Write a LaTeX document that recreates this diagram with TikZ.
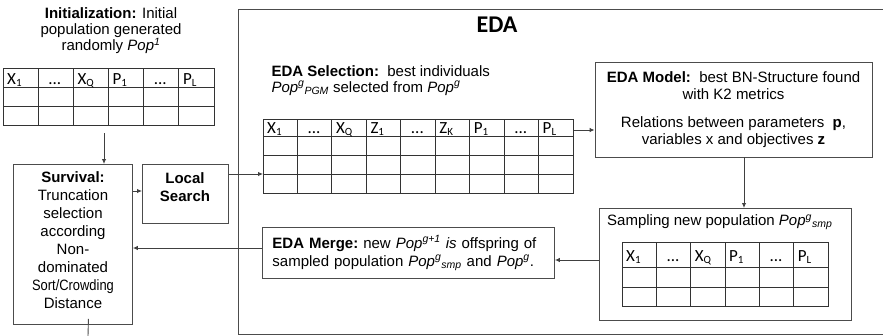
\documentclass[tikz,border=0pt]{standalone}
\usepackage{fontspec}
\setmainfont{Liberation Sans}
\newfontfamily\calfont{Carlito}
\usetikzlibrary{arrows.meta}
\newcommand\sbs[1]{\raisebox{-0.3ex}{\fontsize{11}{11}\selectfont #1}}
\newcommand\celldots{\hspace{6pt}...}

\begin{document}
\begin{tikzpicture}[x=1pt,y=-1pt,
		font=\fontsize{15}{17}\selectfont,
		box/.style={draw=black!70, line width=0.9pt, inner sep=0pt},
		grid/.style={draw=black!80, line width=0.9pt},
		head/.style={font=\calfont\fontsize{17}{17}\selectfont, inner sep=0pt, anchor=base west},
		arw/.style={draw=black!75, line width=0.9pt, -{Latex[length=5pt,width=4.5pt]}}]
			\useasboundingbox (0,0) rectangle (883,335);
			\def \cwa{ 35.17 };
			\def \cwb{ 34.44 };
			\def \cwc{ 34.33 };
			% initial population
			\node[align=center, font=\fontsize{15}{16}\selectfont] (inittxt) at (111,31)
				{\textbf{Initialization:} Initial\\population generated\\randomly \textit{Pop\textsuperscript{1}}};
			\node[box, draw=black!80, anchor=north west, minimum width=211, minimum height=57] (inittab) at (3,68) {};
			\foreach \i in {1,...,5} \draw[grid] ({3+\i*\cwa},68) -- ({3+\i*\cwa},125);
			\foreach \j in {87,106} \draw[grid] (3,\j) -- (214,\j);
			\foreach \h [count=\i from 0] in {X\sbs{1},\celldots,X\sbs{Q},P\sbs{1},\celldots,P\sbs{L}}
				\node[head] (inith\i) at ({3+\i*\cwa+4},84.5) {\h};
			% survival and local search
			\node[box, anchor=north west, minimum width=119, minimum height=160] (survival) at (13,164) {};
			\node[align=center, font=\fontsize{15}{18}\selectfont] (survtxt) at (73,240)
				{\textbf{Survival:}\\Truncation\\selection\\according\\Non-\\dominated\\\scalebox{0.86}[1]{Sort/Crowding}\\Distance};
			\node[box, anchor=north west, minimum width=86, minimum height=59] (local) at (142,164) {};
			\node[align=center, font=\bfseries\fontsize{15}{18}\selectfont] (localtxt) at (185,187) {Local\\Search};
			% EDA frame
			\draw[box] (238,9) rectangle (900,334);
			\node[font=\calfont\bfseries\fontsize{24}{24}\selectfont] (edatitle) at (497,25) {EDA};
			% EDA selection
			\node[anchor=west, align=left, font=\fontsize{15}{15.5}\selectfont] (seltxt) at (268,80.5)
				{\textbf{EDA Selection:}\ \ best individuals\\\textit{Pop\textsuperscript{g}\textsubscript{PGM}} selected from \textit{Pop\textsuperscript{g}}};
			\node[box, draw=black!80, anchor=north west, minimum width=310, minimum height=74] (seltab) at (263,119) {};
			\foreach \i in {1,...,8} \draw[grid] ({263+\i*\cwb},119) -- ({263+\i*\cwb},193);
			\foreach \j in {136,155,174} \draw[grid] (263,\j) -- (573,\j);
			\foreach \h [count=\i from 0] in {X\sbs{1},\celldots,X\sbs{Q},Z\sbs{1},\celldots,Z\sbs{K},P\sbs{1},\celldots,P\sbs{L}}
				\node[head] (selh\i) at ({263+\i*\cwb+4},133) {\h};
			% EDA model
			\node[box, minimum width=277, minimum height=95, align=center] (model) at (733.5,109.5)
				{\textbf{EDA Model:}\ \ best BN-Structure found\\with K2 metrics\\[11pt]Relations between parameters \ \textbf{p},\\variables x and objectives \textbf{z}};
			% sampling
			\node[box, anchor=north west, minimum width=252, minimum height=112] (sampling) at (599,208) {};
			\node[anchor=west, inner sep=0pt] (samptxt) at (607,222)
				{Sampling new population \textit{Pop\textsuperscript{g}\textsubscript{smp}}};
			\node[box, draw=black!80, anchor=north west, minimum width=206, minimum height=64] (samptab) at (622,242) {};
			\foreach \i in {1,...,5} \draw[grid] ({622+\i*\cwc},242) -- ({622+\i*\cwc},306);
			\foreach \j in {267,287} \draw[grid] (622,\j) -- (828,\j);
			\foreach \h [count=\i from 0] in {X\sbs{1},\celldots,X\sbs{Q},P\sbs{1},\celldots,P\sbs{L}}
				\node[head] (samph\i) at ({622+\i*\cwc+4},261) {\h};
			% EDA merge
			\node[box, anchor=north west, text width=272, inner xsep=10pt, minimum height=51, align=left,
				font=\fontsize{15}{18}\selectfont] (merge) at (262,227)
				{\textbf{EDA Merge:}\ new \textit{Pop\textsuperscript{g+1} is} offspring of\\sampled population \textit{Pop\textsuperscript{g}\textsubscript{smp}} and \textit{Pop\textsuperscript{g}}.};
			% connectors
			\coordinate (initout) at (104,133);
			\coordinate (loopend) at (88,336);
			\draw[arw] (initout) -- (initout |- survival.north);
			\draw[arw] ([yshift=-27]survival.north east) -- ([yshift=-27]local.north west);
			\draw[arw] ([yshift=-10]local.north east) -- ([yshift=-10]local.north east -| seltab.west);
			\draw[arw] ([yshift=-11]seltab.north east) -- ([yshift=-11]seltab.north east -| model.west);
			\draw[arw] ([xshift=10.5]model.south) -- ([xshift=10.5]model.south |- sampling.north);
			\draw[arw] ([yshift=-52]sampling.north west) -- ([yshift=-52]sampling.north west -| merge.east);
			\draw[arw] ([yshift=-21]merge.north west) -- ([yshift=-21]merge.north west -| survival.east);
			\draw[box] ([xshift=15.5,yshift=6]survival.south) -- (loopend);
		\end{tikzpicture}
\end{document}
